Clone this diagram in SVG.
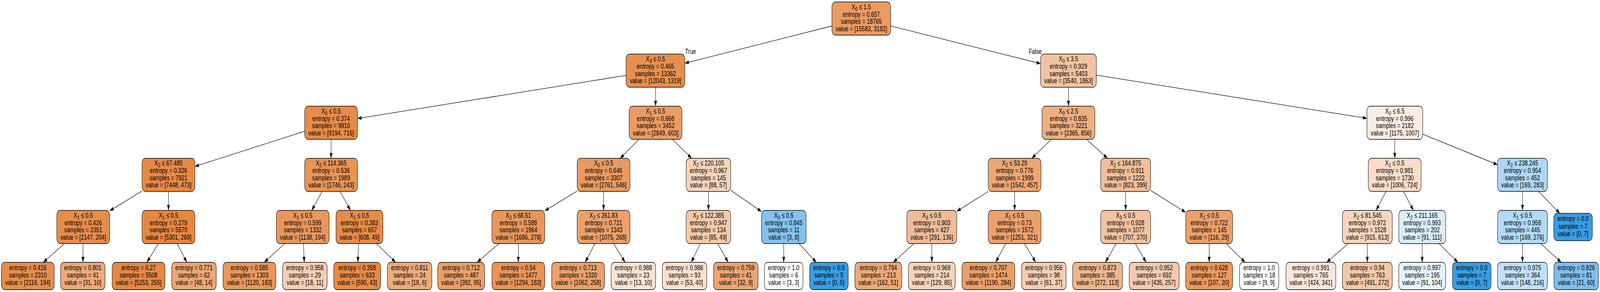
<svg xmlns="http://www.w3.org/2000/svg" width="5584" height="748" viewBox="0 0 5584 748" preserveAspectRatio="none">
<style>
svg{width:100vw;height:100vh;overflow:hidden}
.nd rect{stroke:#000;stroke-width:1.3}
text{font-family:"Liberation Sans",Arial,Helvetica,sans-serif;font-size:18.67px;text-anchor:middle;fill:#000}
.sub{font-size:15px}
.edges path{fill:none;stroke:#000;stroke-width:1.3;marker-end:url(#ah)}
</style>
<defs>
<marker id="ah" markerUnits="userSpaceOnUse" markerWidth="14" markerHeight="10" refX="13.3" refY="4.7" orient="auto" viewBox="0 0 13.3 9.4"><path d="M0,0 L13.3,4.7 L0,9.4 z" fill="#000"/></marker>
</defs>
<rect width="5584" height="748" fill="#fff"/>
<g id="nodes">
<g id="n0" class="nd" transform="translate(3006,5)"><rect x="-102.5" width="205" height="85" rx="12" fill="#ea9b61"/><text y="19">X<tspan class="sub" dy="4">0</tspan><tspan dy="-4"> ≤ 1.5</tspan></text><text y="37.7">entropy = 0.657</text><text y="56.3">samples = 18765</text><text y="75">value = [15583, 3182]</text></g>
<g id="n1" class="nd" transform="translate(2287.5,138.5)"><rect x="-102.5" width="205" height="85" rx="12" fill="#e88f4f"/><text y="19">X<tspan class="sub" dy="4">3</tspan><tspan dy="-4"> ≤ 0.5</tspan></text><text y="37.7">entropy = 0.465</text><text y="56.3">samples = 13362</text><text y="75">value = [12043, 1319]</text></g>
<g id="n2" class="nd" transform="translate(3729,138.5)"><rect x="-97.35" width="194.7" height="85" rx="12" fill="#f3c3a1"/><text y="19">X<tspan class="sub" dy="4">0</tspan><tspan dy="-4"> ≤ 3.5</tspan></text><text y="37.7">entropy = 0.929</text><text y="56.3">samples = 5403</text><text y="75">value = [3540, 1863]</text></g>
<g id="n3" class="nd" transform="translate(1155.5,272)"><rect x="-92.15" width="184.3" height="85" rx="12" fill="#e78b48"/><text y="19">X<tspan class="sub" dy="4">0</tspan><tspan dy="-4"> ≤ 0.5</tspan></text><text y="37.7">entropy = 0.374</text><text y="56.3">samples = 9910</text><text y="75">value = [9194, 716]</text></g>
<g id="n4" class="nd" transform="translate(2288,272)"><rect x="-92.15" width="184.3" height="85" rx="12" fill="#ea9c63"/><text y="19">X<tspan class="sub" dy="4">1</tspan><tspan dy="-4"> ≤ 0.5</tspan></text><text y="37.7">entropy = 0.668</text><text y="56.3">samples = 3452</text><text y="75">value = [2849, 603]</text></g>
<g id="n5" class="nd" transform="translate(3729,272)"><rect x="-92.15" width="184.3" height="85" rx="12" fill="#eeaf81"/><text y="19">X<tspan class="sub" dy="4">0</tspan><tspan dy="-4"> ≤ 2.5</tspan></text><text y="37.7">entropy = 0.835</text><text y="56.3">samples = 3221</text><text y="75">value = [2365, 856]</text></g>
<g id="n6" class="nd" transform="translate(4868,272)"><rect x="-97.35" width="194.7" height="85" rx="12" fill="#fbede3"/><text y="19">X<tspan class="sub" dy="4">0</tspan><tspan dy="-4"> ≤ 6.5</tspan></text><text y="37.7">entropy = 0.996</text><text y="56.3">samples = 2182</text><text y="75">value = [1175, 1007]</text></g>
<g id="n7" class="nd" transform="translate(588,405.5)"><rect x="-92.15" width="184.3" height="85" rx="12" fill="#e78946"/><text y="19">X<tspan class="sub" dy="4">2</tspan><tspan dy="-4"> ≤ 67.485</tspan></text><text y="37.7">entropy = 0.326</text><text y="56.3">samples = 7921</text><text y="75">value = [7448, 473]</text></g>
<g id="n8" class="nd" transform="translate(1155.5,405.5)"><rect x="-92.15" width="184.3" height="85" rx="12" fill="#e99355"/><text y="19">X<tspan class="sub" dy="4">2</tspan><tspan dy="-4"> ≤ 114.365</tspan></text><text y="37.7">entropy = 0.536</text><text y="56.3">samples = 1989</text><text y="75">value = [1746, 243]</text></g>
<g id="n9" class="nd" transform="translate(2106.5,405.5)"><rect x="-92.15" width="184.3" height="85" rx="12" fill="#ea9a60"/><text y="19">X<tspan class="sub" dy="4">0</tspan><tspan dy="-4"> ≤ 0.5</tspan></text><text y="37.7">entropy = 0.646</text><text y="56.3">samples = 3307</text><text y="75">value = [2761, 546]</text></g>
<g id="n10" class="nd" transform="translate(2472.5,405.5)"><rect x="-77.65" width="155.3" height="85" rx="12" fill="#f6d3b9"/><text y="19">X<tspan class="sub" dy="4">2</tspan><tspan dy="-4"> ≤ 220.105</tspan></text><text y="37.7">entropy = 0.967</text><text y="56.3">samples = 145</text><text y="75">value = [88, 57]</text></g>
<g id="n11" class="nd" transform="translate(3541,405.5)"><rect x="-92.15" width="184.3" height="85" rx="12" fill="#eda674"/><text y="19">X<tspan class="sub" dy="4">2</tspan><tspan dy="-4"> ≤ 53.29</tspan></text><text y="37.7">entropy = 0.776</text><text y="56.3">samples = 1999</text><text y="75">value = [1542, 457]</text></g>
<g id="n12" class="nd" transform="translate(3928.5,405.5)"><rect x="-86.95" width="173.9" height="85" rx="12" fill="#f2be99"/><text y="19">X<tspan class="sub" dy="4">2</tspan><tspan dy="-4"> ≤ 164.875</tspan></text><text y="37.7">entropy = 0.911</text><text y="56.3">samples = 1222</text><text y="75">value = [823, 399]</text></g>
<g id="n13" class="nd" transform="translate(4867.5,405.5)"><rect x="-92.15" width="184.3" height="85" rx="12" fill="#f8dcc7"/><text y="19">X<tspan class="sub" dy="4">1</tspan><tspan dy="-4"> ≤ 0.5</tspan></text><text y="37.7">entropy = 0.981</text><text y="56.3">samples = 1730</text><text y="75">value = [1006, 724]</text></g>
<g id="n14" class="nd" transform="translate(5313.5,405.5)"><rect x="-86.95" width="173.9" height="85" rx="12" fill="#afd7f4"/><text y="19">X<tspan class="sub" dy="4">2</tspan><tspan dy="-4"> ≤ 238.245</tspan></text><text y="37.7">entropy = 0.954</text><text y="56.3">samples = 452</text><text y="75">value = [169, 283]</text></g>
<g id="n15" class="nd" transform="translate(290.5,539)"><rect x="-92.15" width="184.3" height="85" rx="12" fill="#e78d4c"/><text y="19">X<tspan class="sub" dy="4">1</tspan><tspan dy="-4"> ≤ 0.5</tspan></text><text y="37.7">entropy = 0.426</text><text y="56.3">samples = 2351</text><text y="75">value = [2147, 204]</text></g>
<g id="n16" class="nd" transform="translate(588,539)"><rect x="-92.15" width="184.3" height="85" rx="12" fill="#e68743"/><text y="19">X<tspan class="sub" dy="4">1</tspan><tspan dy="-4"> ≤ 0.5</tspan></text><text y="37.7">entropy = 0.279</text><text y="56.3">samples = 5570</text><text y="75">value = [5301, 269]</text></g>
<g id="n17" class="nd" transform="translate(1056.5,539)"><rect x="-92.15" width="184.3" height="85" rx="12" fill="#e9965b"/><text y="19">X<tspan class="sub" dy="4">1</tspan><tspan dy="-4"> ≤ 0.5</tspan></text><text y="37.7">entropy = 0.599</text><text y="56.3">samples = 1332</text><text y="75">value = [1138, 194]</text></g>
<g id="n18" class="nd" transform="translate(1254.5,539)"><rect x="-81.8" width="163.6" height="85" rx="12" fill="#e78b49"/><text y="19">X<tspan class="sub" dy="4">1</tspan><tspan dy="-4"> ≤ 0.5</tspan></text><text y="37.7">entropy = 0.383</text><text y="56.3">samples = 657</text><text y="75">value = [608, 49]</text></g>
<g id="n19" class="nd" transform="translate(1809,539)"><rect x="-92.15" width="184.3" height="85" rx="12" fill="#e9965a"/><text y="19">X<tspan class="sub" dy="4">2</tspan><tspan dy="-4"> ≤ 68.51</tspan></text><text y="37.7">entropy = 0.588</text><text y="56.3">samples = 1964</text><text y="75">value = [1686, 278]</text></g>
<g id="n20" class="nd" transform="translate(2106.5,539)"><rect x="-92.15" width="184.3" height="85" rx="12" fill="#eca06a"/><text y="19">X<tspan class="sub" dy="4">2</tspan><tspan dy="-4"> ≤ 261.83</tspan></text><text y="37.7">entropy = 0.721</text><text y="56.3">samples = 1343</text><text y="75">value = [1075, 268]</text></g>
<g id="n21" class="nd" transform="translate(2472.5,539)"><rect x="-77.65" width="155.3" height="85" rx="12" fill="#f4caab"/><text y="19">X<tspan class="sub" dy="4">2</tspan><tspan dy="-4"> ≤ 122.385</tspan></text><text y="37.7">entropy = 0.947</text><text y="56.3">samples = 134</text><text y="75">value = [85, 49]</text></g>
<g id="n22" class="nd" transform="translate(2735.5,539)"><rect x="-77.65" width="155.3" height="85" rx="12" fill="#83c2ef"/><text y="19">X<tspan class="sub" dy="4">0</tspan><tspan dy="-4"> ≤ 0.5</tspan></text><text y="37.7">entropy = 0.845</text><text y="56.3">samples = 11</text><text y="75">value = [3, 8]</text></g>
<g id="n23" class="nd" transform="translate(3252,539)"><rect x="-86.95" width="173.9" height="85" rx="12" fill="#f1bc96"/><text y="19">X<tspan class="sub" dy="4">3</tspan><tspan dy="-4"> ≤ 0.5</tspan></text><text y="37.7">entropy = 0.903</text><text y="56.3">samples = 427</text><text y="75">value = [291, 136]</text></g>
<g id="n24" class="nd" transform="translate(3541,539)"><rect x="-92.15" width="184.3" height="85" rx="12" fill="#eca16c"/><text y="19">X<tspan class="sub" dy="4">1</tspan><tspan dy="-4"> ≤ 0.5</tspan></text><text y="37.7">entropy = 0.73</text><text y="56.3">samples = 1572</text><text y="75">value = [1251, 321]</text></g>
<g id="n25" class="nd" transform="translate(3928.5,539)"><rect x="-86.95" width="173.9" height="85" rx="12" fill="#f3c3a1"/><text y="19">X<tspan class="sub" dy="4">3</tspan><tspan dy="-4"> ≤ 0.5</tspan></text><text y="37.7">entropy = 0.928</text><text y="56.3">samples = 1077</text><text y="75">value = [707, 370]</text></g>
<g id="n26" class="nd" transform="translate(4220,539)"><rect x="-81.8" width="163.6" height="85" rx="12" fill="#eca06a"/><text y="19">X<tspan class="sub" dy="4">1</tspan><tspan dy="-4"> ≤ 0.5</tspan></text><text y="37.7">entropy = 0.722</text><text y="56.3">samples = 145</text><text y="75">value = [116, 29]</text></g>
<g id="n27" class="nd" transform="translate(4772,539)"><rect x="-86.95" width="173.9" height="85" rx="12" fill="#f6d5be"/><text y="19">X<tspan class="sub" dy="4">2</tspan><tspan dy="-4"> ≤ 81.545</tspan></text><text y="37.7">entropy = 0.972</text><text y="56.3">samples = 1528</text><text y="75">value = [915, 613]</text></g>
<g id="n28" class="nd" transform="translate(4963.5,539)"><rect x="-81.8" width="163.6" height="85" rx="12" fill="#dbedfa"/><text y="19">X<tspan class="sub" dy="4">2</tspan><tspan dy="-4"> ≤ 211.165</tspan></text><text y="37.7">entropy = 0.993</text><text y="56.3">samples = 202</text><text y="75">value = [91, 111]</text></g>
<g id="n29" class="nd" transform="translate(5313.5,539)"><rect x="-86.95" width="173.9" height="85" rx="12" fill="#b2d9f5"/><text y="19">X<tspan class="sub" dy="4">1</tspan><tspan dy="-4"> ≤ 0.5</tspan></text><text y="37.7">entropy = 0.958</text><text y="56.3">samples = 445</text><text y="75">value = [169, 276]</text></g>
<g id="n30" class="nd" transform="translate(5490,546.5)"><rect x="-67.25" width="134.5" height="70" rx="12" fill="#399de5"/><text y="20">entropy = 0.0</text><text y="39.2">samples = 7</text><text y="58.4">value = [0, 7]</text></g>
<g id="n31" class="nd" transform="translate(97,672)"><rect x="-92.15" width="184.3" height="70" rx="12" fill="#e78d4b"/><text y="20">entropy = 0.416</text><text y="39.2">samples = 2310</text><text y="58.4">value = [2116, 194]</text></g>
<g id="n32" class="nd" transform="translate(289,672)"><rect x="-77.65" width="155.3" height="70" rx="12" fill="#edaa79"/><text y="20">entropy = 0.801</text><text y="39.2">samples = 41</text><text y="58.4">value = [31, 10]</text></g>
<g id="n33" class="nd" transform="translate(483.5,672)"><rect x="-92.15" width="184.3" height="70" rx="12" fill="#e68743"/><text y="20">entropy = 0.27</text><text y="39.2">samples = 5508</text><text y="58.4">value = [5253, 255]</text></g>
<g id="n34" class="nd" transform="translate(677,672)"><rect x="-77.65" width="155.3" height="70" rx="12" fill="#eda673"/><text y="20">entropy = 0.771</text><text y="39.2">samples = 62</text><text y="58.4">value = [48, 14]</text></g>
<g id="n35" class="nd" transform="translate(870.5,672)"><rect x="-92.15" width="184.3" height="70" rx="12" fill="#e99659"/><text y="20">entropy = 0.585</text><text y="39.2">samples = 1303</text><text y="58.4">value = [1120, 183]</text></g>
<g id="n36" class="nd" transform="translate(1064,672)"><rect x="-77.65" width="155.3" height="70" rx="12" fill="#f5ceb2"/><text y="20">entropy = 0.958</text><text y="39.2">samples = 29</text><text y="58.4">value = [18, 11]</text></g>
<g id="n37" class="nd" transform="translate(1246.5,672)"><rect x="-81.8" width="163.6" height="70" rx="12" fill="#e78a47"/><text y="20">entropy = 0.358</text><text y="39.2">samples = 633</text><text y="58.4">value = [590, 43]</text></g>
<g id="n38" class="nd" transform="translate(1429.5,672)"><rect x="-77.65" width="155.3" height="70" rx="12" fill="#eeab7b"/><text y="20">entropy = 0.811</text><text y="39.2">samples = 24</text><text y="58.4">value = [18, 6]</text></g>
<g id="n39" class="nd" transform="translate(1609.5,672)"><rect x="-81.8" width="163.6" height="70" rx="12" fill="#eb9f69"/><text y="20">entropy = 0.712</text><text y="39.2">samples = 487</text><text y="58.4">value = [392, 95]</text></g>
<g id="n40" class="nd" transform="translate(1809,672)"><rect x="-92.15" width="184.3" height="70" rx="12" fill="#e99355"/><text y="20">entropy = 0.54</text><text y="39.2">samples = 1477</text><text y="58.4">value = [1294, 183]</text></g>
<g id="n41" class="nd" transform="translate(2017.5,672)"><rect x="-92.15" width="184.3" height="70" rx="12" fill="#eba069"/><text y="20">entropy = 0.713</text><text y="39.2">samples = 1320</text><text y="58.4">value = [1062, 258]</text></g>
<g id="n42" class="nd" transform="translate(2210.5,672)"><rect x="-77.65" width="155.3" height="70" rx="12" fill="#f9e2d1"/><text y="20">entropy = 0.988</text><text y="39.2">samples = 23</text><text y="58.4">value = [13, 10]</text></g>
<g id="n43" class="nd" transform="translate(2389,672)"><rect x="-77.65" width="155.3" height="70" rx="12" fill="#f9e0ce"/><text y="20">entropy = 0.986</text><text y="39.2">samples = 93</text><text y="58.4">value = [53, 40]</text></g>
<g id="n44" class="nd" transform="translate(2568,672)"><rect x="-77.65" width="155.3" height="70" rx="12" fill="#eca471"/><text y="20">entropy = 0.759</text><text y="39.2">samples = 41</text><text y="58.4">value = [32, 9]</text></g>
<g id="n45" class="nd" transform="translate(2735,672)"><rect x="-67.25" width="134.5" height="70" rx="12" fill="#ffffff"/><text y="20">entropy = 1.0</text><text y="39.2">samples = 6</text><text y="58.4">value = [3, 3]</text></g>
<g id="n46" class="nd" transform="translate(2893,672)"><rect x="-67.25" width="134.5" height="70" rx="12" fill="#399de5"/><text y="20">entropy = 0.0</text><text y="39.2">samples = 5</text><text y="58.4">value = [0, 5]</text></g>
<g id="n47" class="nd" transform="translate(3065.5,672)"><rect x="-81.8" width="163.6" height="70" rx="12" fill="#eda977"/><text y="20">entropy = 0.794</text><text y="39.2">samples = 213</text><text y="58.4">value = [162, 51]</text></g>
<g id="n48" class="nd" transform="translate(3252,672)"><rect x="-81.8" width="163.6" height="70" rx="12" fill="#f6d4bb"/><text y="20">entropy = 0.969</text><text y="39.2">samples = 214</text><text y="58.4">value = [129, 85]</text></g>
<g id="n49" class="nd" transform="translate(3449.5,672)"><rect x="-92.15" width="184.3" height="70" rx="12" fill="#eb9f68"/><text y="20">entropy = 0.707</text><text y="39.2">samples = 1474</text><text y="58.4">value = [1190, 284]</text></g>
<g id="n50" class="nd" transform="translate(3643,672)"><rect x="-77.65" width="155.3" height="70" rx="12" fill="#f5cdb1"/><text y="20">entropy = 0.956</text><text y="39.2">samples = 98</text><text y="58.4">value = [61, 37]</text></g>
<g id="n51" class="nd" transform="translate(3830.5,672)"><rect x="-86.95" width="173.9" height="70" rx="12" fill="#f0b58b"/><text y="20">entropy = 0.873</text><text y="39.2">samples = 385</text><text y="58.4">value = [272, 113]</text></g>
<g id="n52" class="nd" transform="translate(4028,672)"><rect x="-86.95" width="173.9" height="70" rx="12" fill="#f4cbae"/><text y="20">entropy = 0.952</text><text y="39.2">samples = 692</text><text y="58.4">value = [435, 257]</text></g>
<g id="n53" class="nd" transform="translate(4220,672)"><rect x="-81.8" width="163.6" height="70" rx="12" fill="#ea995e"/><text y="20">entropy = 0.628</text><text y="39.2">samples = 127</text><text y="58.4">value = [107, 20]</text></g>
<g id="n54" class="nd" transform="translate(4394.5,672)"><rect x="-68.5" width="137" height="70" rx="12" fill="#ffffff"/><text y="20">entropy = 1.0</text><text y="39.2">samples = 18</text><text y="58.4">value = [9, 9]</text></g>
<g id="n55" class="nd" transform="translate(4575,672)"><rect x="-86.95" width="173.9" height="70" rx="12" fill="#fae6d8"/><text y="20">entropy = 0.991</text><text y="39.2">samples = 765</text><text y="58.4">value = [424, 341]</text></g>
<g id="n56" class="nd" transform="translate(4772,672)"><rect x="-86.95" width="173.9" height="70" rx="12" fill="#f3c7a7"/><text y="20">entropy = 0.94</text><text y="39.2">samples = 763</text><text y="58.4">value = [491, 272]</text></g>
<g id="n57" class="nd" transform="translate(4963.5,672)"><rect x="-81.8" width="163.6" height="70" rx="12" fill="#e6f3fc"/><text y="20">entropy = 0.997</text><text y="39.2">samples = 195</text><text y="58.4">value = [91, 104]</text></g>
<g id="n58" class="nd" transform="translate(5136.5,672)"><rect x="-67.25" width="134.5" height="70" rx="12" fill="#399de5"/><text y="20">entropy = 0.0</text><text y="39.2">samples = 7</text><text y="58.4">value = [0, 7]</text></g>
<g id="n59" class="nd" transform="translate(5313.5,672)"><rect x="-86.95" width="173.9" height="70" rx="12" fill="#c1e0f7"/><text y="20">entropy = 0.975</text><text y="39.2">samples = 364</text><text y="58.4">value = [148, 216]</text></g>
<g id="n60" class="nd" transform="translate(5501,672)"><rect x="-77.65" width="155.3" height="70" rx="12" fill="#7ebfee"/><text y="20">entropy = 0.826</text><text y="39.2">samples = 81</text><text y="58.4">value = [21, 60]</text></g>
</g>
<g id="edges" class="edges">
<path d="M2903.5 66.5L2390 162"/>
<path d="M3108.5 66.4L3631.7 163"/>
<path d="M2185 193.1L1247.7 303.6"/>
<path d="M2288 223.5L2288 272"/>
<path d="M3729 223.5L3729 272"/>
<path d="M3826.3 192.4L4770.7 303.1"/>
<path d="M1063.3 336.2L680.2 426.3"/>
<path d="M1155.5 357L1155.5 405.5"/>
<path d="M2230.2 357L2164.3 405.5"/>
<path d="M2346.7 357L2413.8 405.5"/>
<path d="M3669.1 357L3600.9 405.5"/>
<path d="M3792.5 357L3865 405.5"/>
<path d="M4868 357L4867.6 405.5"/>
<path d="M4965.3 343.7L5226.5 421.9"/>
<path d="M495.8 489.4L382.7 540.1"/>
<path d="M588 490.5L588 539"/>
<path d="M1124 490.5L1088 539"/>
<path d="M1187 490.5L1223 539"/>
<path d="M2014.3 489.4L1901.2 540.1"/>
<path d="M2106.5 490.5L2106.5 539"/>
<path d="M2472.5 490.5L2472.5 539"/>
<path d="M2550.2 487.4L2657.8 542.1"/>
<path d="M3449 490.5L3339 541.3"/>
<path d="M3541 490.5L3541 539"/>
<path d="M3928.5 490.5L3928.5 539"/>
<path d="M4015.5 487.9L4138.2 544"/>
<path d="M4837.1 490.5L4802.4 539"/>
<path d="M4898.1 490.5L4932.9 539"/>
<path d="M5313.5 490.5L5313.5 539"/>
<path d="M5369.7 490.5L5443.7 546.5"/>
<path d="M225 624L151 672"/>
<path d="M290 624L289.4 672"/>
<path d="M552.6 624L512.6 672"/>
<path d="M618.1 624L652.2 672"/>
<path d="M993.5 624L922.4 672"/>
<path d="M1059 624L1061.9 672"/>
<path d="M1251.8 624L1248.7 672"/>
<path d="M1313.8 624L1380.7 672"/>
<path d="M1741.4 624L1665.1 672"/>
<path d="M1809 624L1809 672"/>
<path d="M2076.4 624L2042.3 672"/>
<path d="M2141.7 624L2181.5 672"/>
<path d="M2444.2 624L2412.3 672"/>
<path d="M2504.8 624L2541.4 672"/>
<path d="M2735.3 624L2735.1 672"/>
<path d="M2788.8 624L2849.1 672"/>
<path d="M3188.9 624L3117.5 672"/>
<path d="M3252 624L3252 672"/>
<path d="M3510 624L3475 672"/>
<path d="M3575.5 624L3614.6 672"/>
<path d="M3895.3 624L3857.8 672"/>
<path d="M3962.2 624L4000.2 672"/>
<path d="M4220 624L4220 672"/>
<path d="M4279.4 624L4345.6 672"/>
<path d="M4705.3 624L4629.9 672"/>
<path d="M4772 624L4772 672"/>
<path d="M4963.5 624L4963.5 672"/>
<path d="M5022.1 624L5088.2 672"/>
<path d="M5313.5 624L5313.5 672"/>
<path d="M5377 624L5448.7 672"/>
<text x="2410" y="138">True</text>
<text x="3613" y="138">False</text>
</g>
</svg>
